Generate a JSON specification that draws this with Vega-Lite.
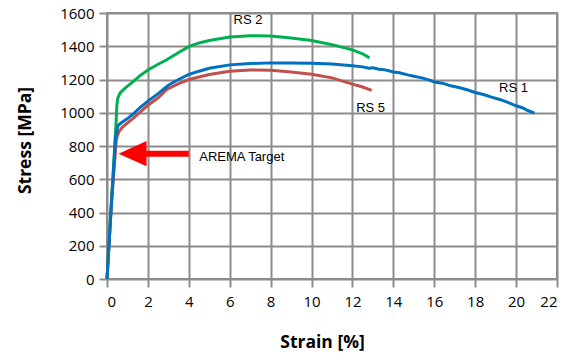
{
  "$schema": "https://vega.github.io/schema/vega-lite/v6.json",
  "width": 450,
  "height": 266,
  "autosize": "none",
  "padding": {"left": 107, "top": 13, "right": 13, "bottom": 78},
  "background": "white",
  "config": {
    "view": {"stroke": "#8c8c8c", "strokeWidth": 2},
    "axis": {
      "gridColor": "#8c8c8c", "gridWidth": 2, "gridOpacity": 1,
      "domain": false,
      "tickColor": "#8c8c8c", "tickWidth": 2, "tickSize": 8,
      "labelFont": "Open Sans", "labelFontSize": 15, "labelColor": "#000",
      "titleFont": "Open Sans", "titleFontSize": 17.5, "titleFontWeight": "bold", "titleColor": "#000"
    }
  },
  "datasets": {
    "curves": [
      {"series": "RS 1", "strain": 0, "stress": 0},
      {"series": "RS 1", "strain": 0.2, "stress": 420},
      {"series": "RS 1", "strain": 0.42, "stress": 850},
      {"series": "RS 1", "strain": 0.5, "stress": 905},
      {"series": "RS 1", "strain": 0.55, "stress": 925},
      {"series": "RS 1", "strain": 0.7, "stress": 940},
      {"series": "RS 1", "strain": 1, "stress": 965},
      {"series": "RS 1", "strain": 1.3, "stress": 995},
      {"series": "RS 1", "strain": 1.6, "stress": 1030},
      {"series": "RS 1", "strain": 2, "stress": 1070},
      {"series": "RS 1", "strain": 2.5, "stress": 1115},
      {"series": "RS 1", "strain": 3, "stress": 1165},
      {"series": "RS 1", "strain": 3.5, "stress": 1200},
      {"series": "RS 1", "strain": 4, "stress": 1230},
      {"series": "RS 1", "strain": 4.5, "stress": 1250},
      {"series": "RS 1", "strain": 5, "stress": 1268},
      {"series": "RS 1", "strain": 6, "stress": 1288},
      {"series": "RS 1", "strain": 7, "stress": 1296},
      {"series": "RS 1", "strain": 8, "stress": 1300},
      {"series": "RS 1", "strain": 9, "stress": 1300},
      {"series": "RS 1", "strain": 10, "stress": 1298},
      {"series": "RS 1", "strain": 11, "stress": 1293},
      {"series": "RS 1", "strain": 12, "stress": 1283},
      {"series": "RS 1", "strain": 12.5, "stress": 1276},
      {"series": "RS 1", "strain": 12.8, "stress": 1268},
      {"series": "RS 1", "strain": 13, "stress": 1270},
      {"series": "RS 1", "strain": 13.3, "stress": 1262},
      {"series": "RS 1", "strain": 13.6, "stress": 1258},
      {"series": "RS 1", "strain": 14, "stress": 1245},
      {"series": "RS 1", "strain": 14.3, "stress": 1240},
      {"series": "RS 1", "strain": 14.7, "stress": 1228},
      {"series": "RS 1", "strain": 15, "stress": 1220},
      {"series": "RS 1", "strain": 15.4, "stress": 1210},
      {"series": "RS 1", "strain": 15.8, "stress": 1195},
      {"series": "RS 1", "strain": 16, "stress": 1185},
      {"series": "RS 1", "strain": 16.4, "stress": 1178},
      {"series": "RS 1", "strain": 16.8, "stress": 1162},
      {"series": "RS 1", "strain": 17.2, "stress": 1152},
      {"series": "RS 1", "strain": 17.6, "stress": 1138},
      {"series": "RS 1", "strain": 18, "stress": 1122},
      {"series": "RS 1", "strain": 18.4, "stress": 1110},
      {"series": "RS 1", "strain": 18.8, "stress": 1094},
      {"series": "RS 1", "strain": 19.2, "stress": 1080},
      {"series": "RS 1", "strain": 19.6, "stress": 1062},
      {"series": "RS 1", "strain": 20, "stress": 1042},
      {"series": "RS 1", "strain": 20.3, "stress": 1030},
      {"series": "RS 1", "strain": 20.6, "stress": 1012},
      {"series": "RS 1", "strain": 20.9, "stress": 998},
      {"series": "RS 2", "strain": 0, "stress": 0},
      {"series": "RS 2", "strain": 0.2, "stress": 430},
      {"series": "RS 2", "strain": 0.44, "stress": 930},
      {"series": "RS 2", "strain": 0.48, "stress": 1040},
      {"series": "RS 2", "strain": 0.52, "stress": 1085},
      {"series": "RS 2", "strain": 0.64, "stress": 1119},
      {"series": "RS 2", "strain": 0.9, "stress": 1150},
      {"series": "RS 2", "strain": 1.29, "stress": 1189},
      {"series": "RS 2", "strain": 1.6, "stress": 1222},
      {"series": "RS 2", "strain": 2.02, "stress": 1259},
      {"series": "RS 2", "strain": 2.5, "stress": 1292},
      {"series": "RS 2", "strain": 2.92, "stress": 1319},
      {"series": "RS 2", "strain": 3.5, "stress": 1362},
      {"series": "RS 2", "strain": 4.02, "stress": 1399},
      {"series": "RS 2", "strain": 4.5, "stress": 1420},
      {"series": "RS 2", "strain": 5, "stress": 1435},
      {"series": "RS 2", "strain": 6, "stress": 1455},
      {"series": "RS 2", "strain": 7, "stress": 1463},
      {"series": "RS 2", "strain": 8, "stress": 1461},
      {"series": "RS 2", "strain": 9, "stress": 1450},
      {"series": "RS 2", "strain": 10, "stress": 1435},
      {"series": "RS 2", "strain": 11, "stress": 1410},
      {"series": "RS 2", "strain": 12, "stress": 1378},
      {"series": "RS 2", "strain": 12.5, "stress": 1355},
      {"series": "RS 2", "strain": 12.83, "stress": 1330},
      {"series": "RS 5", "strain": 0, "stress": 0},
      {"series": "RS 5", "strain": 0.2, "stress": 420},
      {"series": "RS 5", "strain": 0.45, "stress": 830},
      {"series": "RS 5", "strain": 0.5, "stress": 860},
      {"series": "RS 5", "strain": 0.6, "stress": 890},
      {"series": "RS 5", "strain": 0.8, "stress": 918},
      {"series": "RS 5", "strain": 1.29, "stress": 968},
      {"series": "RS 5", "strain": 2, "stress": 1045},
      {"series": "RS 5", "strain": 2.5, "stress": 1090},
      {"series": "RS 5", "strain": 2.92, "stress": 1140},
      {"series": "RS 5", "strain": 3.5, "stress": 1175},
      {"series": "RS 5", "strain": 4, "stress": 1200},
      {"series": "RS 5", "strain": 5, "stress": 1230},
      {"series": "RS 5", "strain": 6, "stress": 1249},
      {"series": "RS 5", "strain": 7, "stress": 1257},
      {"series": "RS 5", "strain": 8, "stress": 1255},
      {"series": "RS 5", "strain": 9, "stress": 1245},
      {"series": "RS 5", "strain": 10, "stress": 1232},
      {"series": "RS 5", "strain": 11, "stress": 1210},
      {"series": "RS 5", "strain": 12, "stress": 1172},
      {"series": "RS 5", "strain": 12.5, "stress": 1155},
      {"series": "RS 5", "strain": 12.94, "stress": 1134}
    ],
    "labels": [
      {"text": "RS 2", "strain": 6.19, "stress": 1560},
      {"text": "RS 1", "strain": 19.17, "stress": 1149},
      {"text": "RS 5", "strain": 12.18, "stress": 1029},
      {"text": "AREMA Target", "strain": 4.51, "stress": 734}
    ],
    "arrowShaft": [{"strain": 1.6, "strain2": 4.0, "stress": 754}],
    "arrowHead": [{"strain": 1.25, "stress": 754}]
  },
  "encoding": {
    "x": {"field": "strain", "type": "quantitative", "scale": {"domain": [0, 22], "nice": false},
          "axis": {"values": [0,2,4,6,8,10,12,14,16,18,20,22], "title": "Strain [%]", "labelPadding": 7,
                   "titleX": 215, "titleY": 63, "titleBaseline": "middle"}},
    "y": {"field": "stress", "type": "quantitative", "scale": {"domain": [0, 1600], "nice": false},
          "axis": {"values": [0,200,400,600,800,1000,1200,1400,1600], "format": "d", "labelOverlap": false,
                   "title": "Stress [MPa]", "labelPadding": 5,
                   "titleX": -82, "titleY": 127, "titleAngle": -90, "titleAlign": "center", "titleBaseline": "middle"}}
  },
  "layer": [
    {
      "data": {"name": "curves"},
      "transform": [{"filter": "datum.series === 'RS 2'"}],
      "mark": {"type": "line", "color": "#00b050", "strokeWidth": 3}
    },
    {
      "data": {"name": "curves"},
      "transform": [{"filter": "datum.series === 'RS 5'"}],
      "mark": {"type": "line", "color": "#c0504d", "strokeWidth": 3}
    },
    {
      "data": {"name": "curves"},
      "transform": [{"filter": "datum.series === 'RS 1'"}],
      "mark": {"type": "line", "color": "#0070c0", "strokeWidth": 3}
    },
    {
      "data": {"name": "arrowShaft"},
      "mark": {"type": "rule", "color": "#ff0000", "strokeWidth": 6},
      "encoding": {
        "x2": {"field": "strain2"}
      }
    },
    {
      "data": {"name": "arrowHead"},
      "mark": {"type": "point", "shape": "M-1,0L1,-0.9L1,0.9Z", "filled": true, "color": "#ff0000", "opacity": 1, "size": 784}
    },
    {
      "data": {"name": "labels"},
      "mark": {"type": "text", "font": "Liberation Sans", "fontSize": 13, "color": "#000", "baseline": "middle", "align": "left"},
      "encoding": {
        "text": {"field": "text"}
      }
    }
  ]
}
